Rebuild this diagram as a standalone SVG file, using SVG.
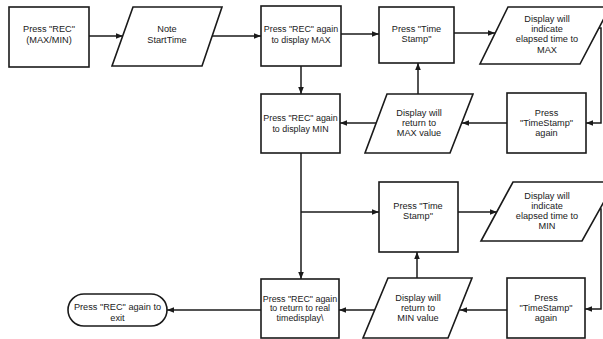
<svg xmlns="http://www.w3.org/2000/svg" width="603" height="339" viewBox="0 0 603 339">
<defs>
<marker id="ah" viewBox="0 0 10 10" refX="10" refY="5" markerWidth="7" markerHeight="7" markerUnits="userSpaceOnUse" orient="auto">
<path d="M0,1 L10,5 L0,9 Z" fill="#1a1a1a"/>
</marker>
<style>
.shape{fill:#fff;stroke:#1a1a1a;stroke-width:1.6}
.edge{fill:none;stroke:#1a1a1a;stroke-width:1.5}
.arr{marker-end:url(#ah)}
text{font-family:"Liberation Sans",Arial,sans-serif;font-size:9.2px;fill:#1a1a1a;text-anchor:middle}
.tight{font-size:8.9px}
</style>
</defs>
<rect width="603" height="339" fill="#fff"/>
<g id="connectors">
<line class="edge arr" x1="89" y1="36" x2="123" y2="36"/>
<line class="edge arr" x1="212" y1="36" x2="261" y2="36"/>
<line class="edge arr" x1="301" y1="66" x2="301" y2="94"/>
<line class="edge arr" x1="341" y1="34" x2="379" y2="34"/>
<line class="edge arr" x1="454" y1="33" x2="495" y2="33"/>
<polyline class="edge arr" points="597,28 601,28 601,123 586,123"/>
<line class="edge arr" x1="507" y1="123" x2="462" y2="123"/>
<line class="edge arr" x1="418" y1="94" x2="418" y2="63"/>
<line class="edge arr" x1="376" y1="123" x2="340" y2="123"/>
<line class="edge arr" x1="301" y1="153" x2="301" y2="279"/>
<line class="edge arr" x1="301" y1="212" x2="379" y2="212"/>
<line class="edge arr" x1="458" y1="212" x2="497" y2="212"/>
<polyline class="edge arr" points="598,209 601,209 601,309 585,309"/>
<line class="edge arr" x1="507" y1="310" x2="460" y2="310"/>
<line class="edge arr" x1="417" y1="278" x2="417" y2="252"/>
<line class="edge arr" x1="375" y1="310" x2="339" y2="310"/>
<line class="edge arr" x1="261" y1="310" x2="167" y2="310"/>
</g>
<g id="n1"><rect class="shape" x="9" y="7" width="80" height="60"/><text x="49" y="32">Press "REC"</text><text x="49" y="42.5">(MAX/MIN)</text></g>
<g id="n2"><polygon class="shape" points="133,7 222,7 202,66 112,66"/><text x="167" y="32">Note</text><text x="167" y="42.5">StartTime</text></g>
<g id="n3"><rect class="shape" x="261" y="6" width="80" height="60"/><text class="tight" x="301" y="32">Press "REC" again</text><text class="tight" x="301" y="42.5">to display MAX</text></g>
<g id="n4"><rect class="shape" x="261" y="94" width="79" height="59"/><text class="tight" x="300.5" y="121">Press "REC" again</text><text class="tight" x="300.5" y="131.5">to display MIN</text></g>
<g id="n5"><rect class="shape" x="379" y="7" width="75" height="56"/><text x="416.5" y="32">Press "Time</text><text x="416.5" y="42">Stamp"</text></g>
<g id="n6"><polygon class="shape" points="508,7 610,7 580,64 480,64"/><text x="547" y="21.5">Display will</text><text x="547" y="31.5">indicate</text><text x="547" y="42">elapsed time to</text><text x="547" y="52.5">MAX</text></g>
<g id="n7"><rect class="shape" x="507" y="93" width="79" height="60"/><text x="546.5" y="115.5">Press</text><text x="546.5" y="125.5">"TimeStamp"</text><text x="546.5" y="135.5">again</text></g>
<g id="n8"><polygon class="shape" points="387,94 473,94 450,153 365,153"/><text x="419" y="115.5">Display will</text><text x="419" y="125.5">return to</text><text x="419" y="135.5">MAX value</text></g>
<g id="n10"><rect class="shape" x="261" y="279" width="78" height="59"/><text class="tight" x="300" y="301.5">Press "REC" again</text><text class="tight" x="300" y="311">to return to real</text><text class="tight" x="300" y="320.5">timedisplay\</text></g>
<g id="n11"><rect class="shape" x="379" y="182" width="79" height="70"/><text x="418" y="208.5">Press "Time</text><text x="418" y="218.5">Stamp"</text></g>
<g id="n12"><polygon class="shape" points="513,182 615,182 582,241 481,241"/><text x="547" y="198.5">Display will</text><text x="547" y="208.5">indicate</text><text x="547" y="218.5">elapsed time to</text><text x="547" y="228.5">MIN</text></g>
<g id="n13"><rect class="shape" x="507" y="278" width="78" height="60"/><text x="546" y="300.5">Press</text><text x="546" y="310.5">"TimeStamp"</text><text x="546" y="320.5">again</text></g>
<g id="n14"><polygon class="shape" points="388,278 472,278 448,338 363,338"/><text x="418" y="300.5">Display will</text><text x="418" y="310.5">return to</text><text x="418" y="320.5">MIN value</text></g>
<g id="n15"><rect class="shape" x="68" y="294" width="99" height="32" rx="16" ry="16"/><text x="117.5" y="310">Press "REC" again to</text><text x="117.5" y="321">exit</text></g>
</svg>
